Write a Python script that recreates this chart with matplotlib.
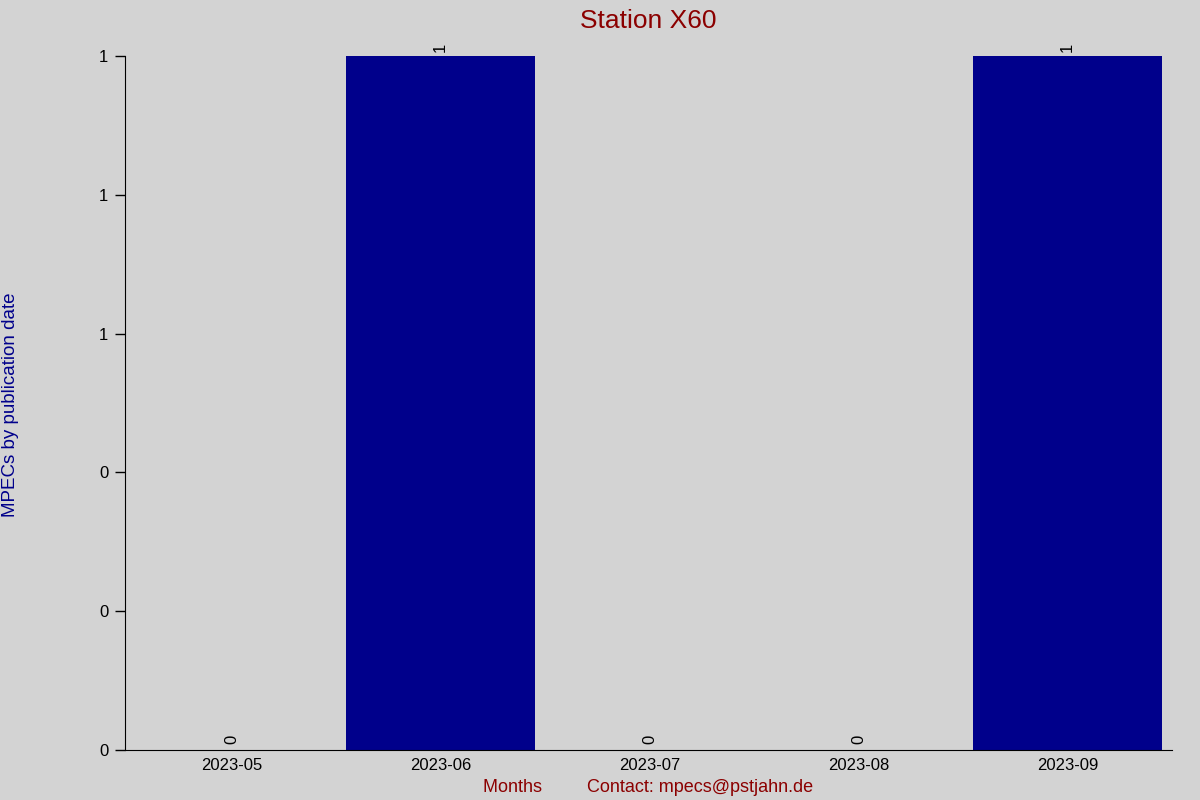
import matplotlib.pyplot as plt
import matplotlib.ticker as mticker

months = ["2023-05", "2023-06", "2023-07", "2023-08", "2023-09"]
counts = [0, 1, 0, 0, 1]

plt.rcParams["font.family"] = ["Liberation Sans", "DejaVu Sans"]

fig = plt.figure(figsize=(12, 8), dpi=100, facecolor="#d3d3d3")
ax = fig.add_axes([0.1042, 0.0625, 0.8725, 0.8675])
ax.set_facecolor("#d3d3d3")

x = list(range(len(months)))
ax.bar(x, counts, width=0.905, color="#00008b")

for xi, c in zip(x, counts):
    if c > 0:
        ax.annotate(str(c), (xi, c), xytext=(0, 3), textcoords="offset points",
                    rotation=90, ha="center", va="bottom", fontsize=12, color="black")
    else:
        ax.annotate(str(c), (xi, 0), xytext=(0, 4), textcoords="offset points",
                    rotation=90, ha="center", va="bottom", fontsize=12, color="black")

ax.set_xlim(-0.51, 4.5)
ax.set_ylim(0, 1)
ax.set_xticks(x)
ax.set_xticklabels(months)
ax.yaxis.set_major_locator(mticker.MultipleLocator(0.2))
ax.yaxis.set_major_formatter(mticker.FormatStrFormatter("%.0f"))
ax.tick_params(axis="x", length=0, pad=6, labelsize=12)
ax.tick_params(axis="y", length=7, width=1, direction="out", pad=5, labelsize=12)

ax.spines["top"].set_visible(False)
ax.spines["right"].set_visible(False)

ax.set_title("Station X60", color="#8b0000", fontsize=19, pad=20)
ax.set_ylabel("MPECs by publication date", color="#00008b", fontsize=13.5,
              va="center", ha="center")
ax.yaxis.set_label_coords(-0.1098, 0.497)
ax.set_xlabel("Months         Contact: mpecs@pstjahn.de", color="#8b0000",
              fontsize=13, labelpad=4)

fig.savefig("out.png", dpi=100, facecolor=fig.get_facecolor())
